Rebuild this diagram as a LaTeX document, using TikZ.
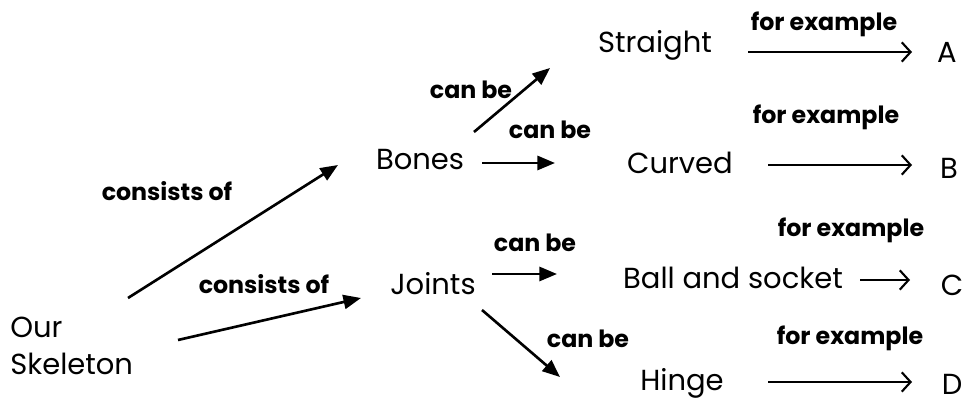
\documentclass[tikz,border=0pt]{standalone}
\usepackage{fontspec}
\setmainfont{Poppins}
\usetikzlibrary{arrows.meta}

\begin{document}
\begin{tikzpicture}[x=0.02cm,y=-0.02cm]
  \tikzstyle{every node}+=[inner sep=0pt]
  \tikzstyle{item}=[font=\fontsize{16.5}{21}\selectfont]
  \tikzstyle{lbl}=[font=\fontsize{13.5}{15}\selectfont\bfseries]
  \tikzstyle{link}=[line width=1.5pt,-{Triangle[length=10pt,width=8pt]}]
  \tikzstyle{eg}=[line width=1.2pt,-{Straight Barb[length=5pt,width=11pt]}]
  \useasboundingbox (0,0) rectangle (967,404);
  % concepts
  \draw (10,346) node[item,anchor=west,align=left] (skel) {Our\\Skeleton};
  \draw (420,160) node[item] (bones) {Bones};
  \draw (433,284) node[item] (joints) {Joints};
  \draw (655,45) node[item] (straight) {Straight};
  \draw (680,163) node[item] (curved) {Curved};
  \draw (733,278) node[item] (ball) {Ball and socket};
  \draw (682,383) node[item] (hinge) {Hinge};
  \draw (947,52) node[item] (exA) {A};
  \draw (949,168) node[item] (exB) {B};
  \draw (952,285) node[item] (exC) {C};
  \draw (952,384) node[item] (exD) {D};
  % link words
  \draw (167,191) node[lbl] (cons1) {consists of};
  \draw (264,284) node[lbl] (cons2) {consists of};
  \draw (471,90) node[lbl] (can1) {can be};
  \draw (550,130) node[lbl] (can2) {can be};
  \draw (535,243) node[lbl] (can3) {can be};
  \draw (588,339) node[lbl] (can4) {can be};
  \draw (824,24) node[lbl] (fe1) {for example};
  \draw (826,117) node[lbl] (fe2) {for example};
  \draw (851,230) node[lbl] (fe3) {for example};
  \draw (850,338) node[lbl] (fe4) {for example};
  % arrow ends
  \coordinate (skel-up) at (128,298);
  \coordinate (skel-dn) at (178,340);
  \coordinate (bones-in) at (338,165);
  \coordinate (joints-in) at (361,298);
  \coordinate (bones-up) at (474,132);
  \coordinate (straight-in) at (550,68);
  \coordinate (bones-rt) at (482,163);
  \coordinate (curved-in) at (555,163);
  \coordinate (joints-rt) at (492,274);
  \coordinate (ball-in) at (557,274);
  \coordinate (joints-dn) at (482,310);
  \coordinate (hinge-in) at (560,377);
  \coordinate (straight-out) at (748,52);
  \coordinate (A-in) at (912,52);
  \coordinate (curved-out) at (768,165);
  \coordinate (B-in) at (912,165);
  \coordinate (ball-out) at (860,280);
  \coordinate (C-in) at (910,280);
  \coordinate (hinge-out) at (768,382);
  \coordinate (D-in) at (912,382);
  % arrows
  \draw [link] (skel-up) -- (bones-in);
  \draw [link] (skel-dn) -- (joints-in);
  \draw [link] (bones-up) -- (straight-in);
  \draw [link] (bones-rt) -- (curved-in);
  \draw [link] (joints-rt) -- (ball-in);
  \draw [link] (joints-dn) -- (hinge-in);
  \draw [eg] (straight-out) -- (A-in);
  \draw [eg] (curved-out) -- (B-in);
  \draw [eg] (ball-out) -- (C-in);
  \draw [eg] (hinge-out) -- (D-in);
\end{tikzpicture}
\end{document}
